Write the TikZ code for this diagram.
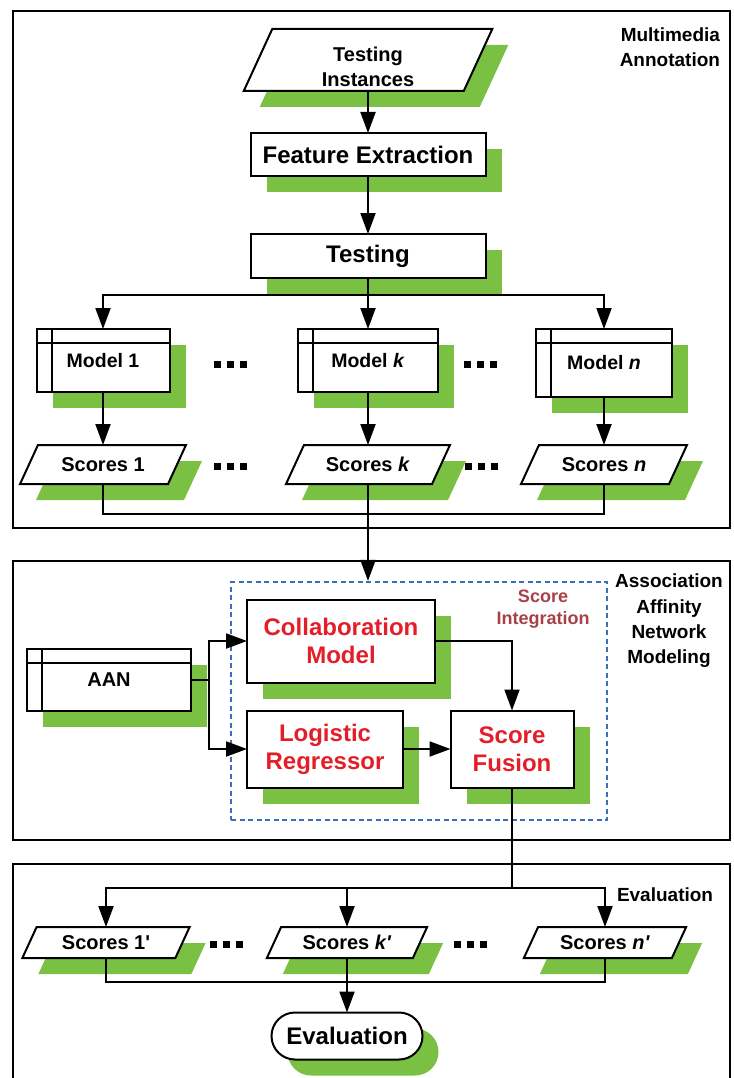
\documentclass[tikz,border=0pt]{standalone}
\usepackage{fontspec}
\setmainfont{Liberation Sans}[Ligatures=TeXOff]
\usetikzlibrary{calc,arrows.meta,shadows}

\pgfdeclarelayer{shadowlayer}
\pgfdeclarelayer{shapelayer}
\pgfsetlayers{shadowlayer,shapelayer,main}

\definecolor{shgreen}{RGB}{122,192,66}
\definecolor{redtext}{RGB}{228,30,40}
\definecolor{scoreint}{RGB}{168,64,72}
\definecolor{dashblue}{RGB}{60,110,190}

\tikzset{
  line/.style={line width=2pt, draw=black},
  arr/.style={line, -{Triangle[length=21pt,width=15pt]}},
  shd/.style={drop shadow={shadow xshift=16pt, shadow yshift=-16pt, fill=shgreen, opacity=1}},
  box/.style={draw, line width=2pt, fill=white, inner sep=2pt, outer sep=0pt,
    align=center, shd, font=\bfseries\fontsize{20}{25}\selectfont},
  bigbox/.style={box, font=\bfseries\fontsize{24}{28}\selectfont},
  redbox/.style={bigbox, text=redtext},
  model/.style={box, font=\bfseries\fontsize{19.5}{24}\selectfont,
    path picture={
      \draw[line width=2pt] ([xshift=15pt]path picture bounding box.north west)
        -- ([xshift=15pt]path picture bounding box.south west);
      \draw[line width=2pt] ([yshift=-14pt]path picture bounding box.north west)
        -- ([yshift=-14pt]path picture bounding box.north east);}},
  iotext/.style={inner sep=0pt, outer sep=0pt, align=center,
    font=\bfseries\fontsize{20}{25}\selectfont},
  lbl/.style={inner sep=0pt, outer sep=0pt, font=\bfseries\fontsize{19}{25}\selectfont},
}

% data block: parallelogram with a green shadow
% #1 name, #2 x, #3 y, #4 width, #5 height, #6 text
\newcommand\ioshape[6]{%
  \node[iotext, minimum width=#4pt, minimum height=#5pt] (#1) at (#2,#3) {#6};
  \pgfmathsetmacro\sl{0.23*#5}%
  \begin{pgfonlayer}{shadowlayer}
    \fill[shgreen] ($(#1.north west)+(\sl+16,16)$) -- ($(#1.north east)+(\sl+16,16)$)
      -- ($(#1.south east)+(16-\sl,16)$) -- ($(#1.south west)+(16-\sl,16)$) -- cycle;
  \end{pgfonlayer}
  \begin{pgfonlayer}{shapelayer}
    \filldraw[fill=white, line width=2pt, line join=miter]
      ($(#1.north west)+(\sl,0)$) -- ($(#1.north east)+(\sl,0)$)
      -- ($(#1.south east)+(-\sl,0)$) -- ($(#1.south west)+(-\sl,0)$) -- cycle;
  \end{pgfonlayer}
}

% three square dots
\newcommand\tridots[2]{%
  \foreach \d in {-13,0,13} \fill ({#1+\d-3.5},{#2-3.5}) rectangle ++(7,7);
}

\begin{document}
\begin{tikzpicture}[x=1pt, y=-1pt]
\useasboundingbox (0,0) rectangle (733,1078);

% stage frames
\draw[line] (13,11) rectangle (730,528);
\draw[line] (13,561) rectangle (730,840);
\draw[line] (13,1078) |- (730,864) -- (730,1078);

% ---- multimedia annotation ----
\ioshape{ti}{368}{60}{220}{62}{\rule{0pt}{28pt}Testing\\Instances}
\node[bigbox, minimum width=235pt, minimum height=43pt] (fe) at (368,154.5) {Feature Extraction};
\node[bigbox, minimum width=235pt, minimum height=44pt] (te) at (368,256) {Testing};

\node[model, minimum width=133pt, minimum height=63pt] (m1) at (103,360.5) {Model 1};
\node[model, minimum width=140pt, minimum height=63pt] (mk) at (368,360.5) {Model \textit{k}};
\node[model, minimum width=136pt, minimum height=68pt] (mn) at (604,363) {Model \textit{n}};

\ioshape{s1}{103}{464.5}{148}{39}{Scores 1}
\ioshape{sk}{368}{464.5}{146}{39}{Scores \textit{k}}
\ioshape{sn}{604}{464.5}{148}{39}{Scores \textit{n}}

\tridots{230}{364}
\tridots{480}{364}
\tridots{230}{466}
\tridots{481}{466}

\node[lbl, anchor=east, align=right] (labA) at (720,47.5) {Multimedia\\Annotation};

% ---- association affinity network modeling ----
\node[draw=dashblue, dash pattern=on 5pt off 3.5pt, line width=2.2pt, inner sep=0pt,
      minimum width=376pt, minimum height=238pt] (integ) at (419,701) {};
\node[lbl, text=scoreint, align=center, font=\bfseries\fontsize{18}{22}\selectfont]
      (labI) at (543,609) {Score\\Integration};

\node[redbox, minimum width=188pt, minimum height=83pt] (collab) at (341,641) {Collaboration\\Model};
\node[redbox, minimum width=156pt, minimum height=77pt] (logi) at (325,749) {Logistic\\Regressor};
\node[redbox, minimum width=123pt, minimum height=77pt] (fusion) at (512,749) {Score\\Fusion};
\node[model, minimum width=164pt, minimum height=62pt, font=\bfseries\fontsize{20}{24}\selectfont]
      (aan) at (109,680) {AAN};

\node[lbl, align=center, font=\bfseries\fontsize{19}{25.3}\selectfont] (labB) at (669,621)
      {Association\\Affinity\\Network\\Modeling};

% ---- evaluation ----
\ioshape{p1}{106}{942.5}{153}{31}{Scores 1'}
\ioshape{pk}{347}{942.5}{146}{31}{Scores \textit{k'}}
\ioshape{pn}{605}{942.5}{148}{31}{Scores \textit{n'}}
\tridots{226}{944}
\tridots{470}{944}

\node[bigbox, rounded corners=23.5pt, minimum width=151pt, minimum height=47pt] (ev) at (347,1036) {Evaluation};
\node[lbl, anchor=west] (labC) at (617,895) {Evaluation};

% ---- connectors ----
\coordinate (yA) at (0,295);
\coordinate (yB) at (0,514);
\coordinate (yC) at (0,888);
\coordinate (yD) at (0,982);

\draw[arr] (ti.south) -- (ti.south |- fe.north);
\draw[arr] (fe.south) -- (fe.south |- te.north);
\coordinate (jA) at (te.south |- yA);
\draw[line] (te.south) -- (jA);
\draw[arr] (jA) -| (m1.north);
\draw[arr] (jA) -- (mk.north);
\draw[arr] (jA) -| (mn.north);

\draw[arr] (m1.south) -- (s1.north);
\draw[arr] (mk.south) -- (sk.north);
\draw[arr] (mn.south) -- (mn.south |- sn.north);

\draw[line] (s1.south) |- (sn.south |- yB) -- (sn.south);
\draw[arr] (sk.south) -- (sk.south |- integ.north);

\coordinate (aanj) at ($(aan.east)+(18,0)$);
\draw[arr] (aan.east) -- (aanj) |- (collab.west);
\draw[arr] (aanj) |- (logi.west);
\draw[arr] (collab.east) -| (fusion.north);
\draw[arr] (logi.east) -- (fusion.west);

\coordinate (jC) at (fusion.south |- yC);
\draw[line] (fusion.south) -- (jC);
\draw[arr] (jC) -| (p1.north);
\draw[arr] (jC) -| (pn.north);
\draw[arr] (pk.north |- yC) -- (pk.north);

\draw[line] (p1.south) |- (pn.south |- yD) -- (pn.south);
\draw[arr] (pk.south) -- (pk.south |- ev.north);
\end{tikzpicture}
\end{document}
